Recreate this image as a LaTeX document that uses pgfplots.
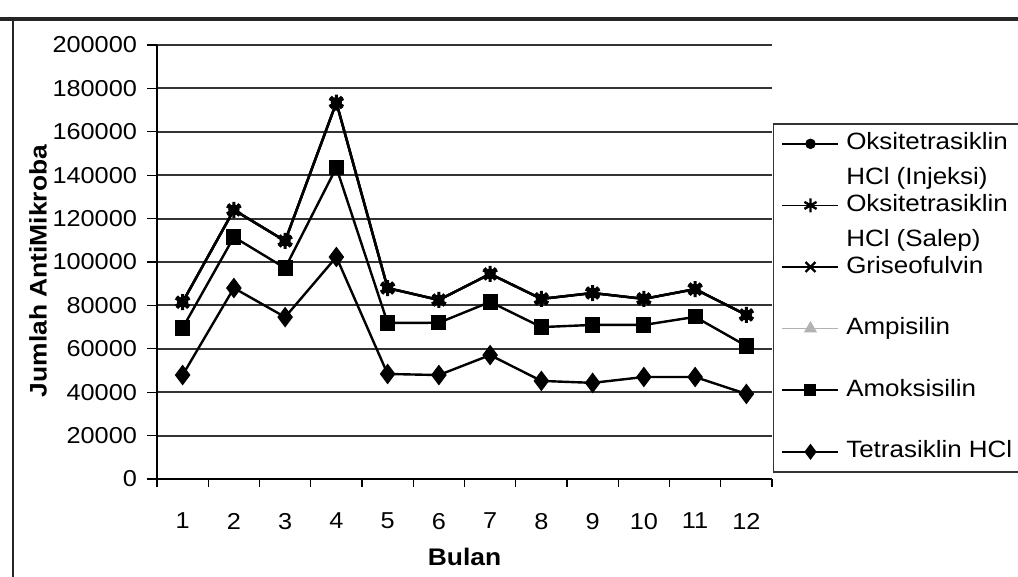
\documentclass[border=0pt]{standalone}
\usepackage{fontspec}
\setmainfont{Liberation Sans}[FakeStretch=1.1]
\usepackage{pgfplots}
\pgfplotsset{compat=1.18}
\newcommand{\twoline}[2]{\smash{\begin{tabular}[t]{@{}l@{}}#1\\#2\end{tabular}}}
\begin{document}
\begin{tikzpicture}
\useasboundingbox (0,0) rectangle (509pt,288.5pt);
\draw[line width=1.6pt, black!85] (0,279pt) -- (509pt,279pt);
\draw[line width=1.2pt, black!85] (6.5pt,279pt) -- (6.5pt,-1pt);
\begin{axis}[
  at={(78.5pt,49pt)}, anchor=south west,
  scale only axis, width=307.5pt, height=217pt,
  xmin=0.5, xmax=12.5, ymin=0, ymax=200000,
  axis lines*=left,
  axis line style={line width=0.9pt, black},
  xtick={1,...,12},
  minor xtick={0.5,1.5,...,12.5},
  major x tick style={draw=none},
  minor x tick style={line width=0.6pt, black},
  minor tick length=4pt,
  ytick={0,20000,...,200000},
  major y tick style={line width=0.6pt, black},
  major tick length=5pt,
  tick align=outside,
  ymajorgrids,
  major grid style={line width=1pt, black!80},
  scaled y ticks=false,
  /pgf/number format/.cd, fixed, 1000 sep={}, assume math mode=true,
  /pgfplots/.cd,
  ticklabel style={font=\fontsize{11.5}{13.5}\selectfont},
  yticklabel style={xshift=-1.5pt},
  xticklabel style={yshift=-8.5pt},
  every axis x label/.style={at={(axis description cs:0.5,-0.18)}, anchor=center, font=\fontsize{12}{14}\selectfont\bfseries},
  every axis y label/.style={at={(axis description cs:-0.1935,0.479)}, anchor=center, rotate=90, font=\fontsize{12}{14}\selectfont\bfseries},
  xlabel={Bulan},
  ylabel={Jumlah AntiMikroba},
  legend style={at={(axis description cs:1.0016,0.820)}, anchor=north west,
    draw=black!80, line width=0.7pt, fill=white,
    inner xsep=4pt, inner ysep=5pt,
    font=\fontsize{11.8}{17.5}\selectfont,
    nodes={inner sep=0pt, text height=8pt, text depth=2pt},
    column sep=3.5pt, row sep=20.8pt},
  legend cell align=left,
  legend image code/.code={\draw[mark repeat=2,mark phase=2,#1] plot coordinates {(0pt,0pt) (14pt,0pt) (28pt,0pt)};},
]
% legend entries (in reference order)
\addlegendimage{black, line width=0.8pt, mark=*, mark size=2.2pt, mark options={solid}}
\addlegendentry{\twoline{Oksitetrasiklin}{HCl (Injeksi)}}
\addlegendimage{black, line width=0.8pt, mark=asterisk, mark size=3.5pt, mark options={line width=1.2pt}}
\addlegendentry{\twoline{Oksitetrasiklin}{HCl (Salep)}}
\addlegendimage{black, line width=0.8pt, mark=x, mark size=3.5pt, mark options={line width=1.2pt}}
\addlegendentry{Griseofulvin}
\addlegendimage{black!30, line width=0.8pt, mark=triangle*, mark size=3pt}
\addlegendentry{Ampisilin}
\addlegendimage{black, line width=0.8pt, mark=square*, mark size=2.6pt}
\addlegendentry{Amoksisilin}
\addlegendimage{black, line width=0.8pt, mark=diamond*, mark size=3.4pt}
\addlegendentry{Tetrasiklin HCl}
% hidden series (drawn first, behind visible ones)
\addplot[forget plot, black!30, line width=0.8pt, mark=triangle*, mark size=3pt] coordinates {
(1,69600) (2,111500) (3,97200) (4,143500) (5,71900) (6,72000) (7,81600) (8,70000) (9,71000) (10,71000) (11,74700) (12,61300)};
\addplot[forget plot, black, line width=1.2pt, mark=*, mark size=2.2pt] coordinates {
(1,81500) (2,124000) (3,109700) (4,173500) (5,88000) (6,82500) (7,94500) (8,83000) (9,85700) (10,83000) (11,87500) (12,75600)};
\addplot[forget plot, black, line width=1.2pt, mark=x, mark size=4pt, mark options={line width=1.6pt}] coordinates {
(1,81500) (2,124000) (3,109700) (4,173500) (5,88000) (6,82500) (7,94500) (8,83000) (9,85700) (10,83000) (11,87500) (12,75600)};
\addplot[forget plot, black, line width=1.2pt, mark=asterisk, mark size=4pt, mark options={line width=1.6pt}] coordinates {
(1,81500) (2,124000) (3,109700) (4,173500) (5,88000) (6,82500) (7,94500) (8,83000) (9,85700) (10,83000) (11,87500) (12,75600)};
\addplot[forget plot, black, line width=1.2pt, mark=square*, mark size=3.2pt] coordinates {
(1,69600) (2,111500) (3,97200) (4,143500) (5,71900) (6,72000) (7,81600) (8,70000) (9,71000) (10,71000) (11,74700) (12,61300)};
\addplot[forget plot, black, line width=1.2pt, mark=diamond*, mark size=4.2pt] coordinates {
(1,47900) (2,88000) (3,74600) (4,102300) (5,48400) (6,47900) (7,57100) (8,45200) (9,44300) (10,47000) (11,47000) (12,39200)};
\end{axis}
\end{tikzpicture}
\end{document}
